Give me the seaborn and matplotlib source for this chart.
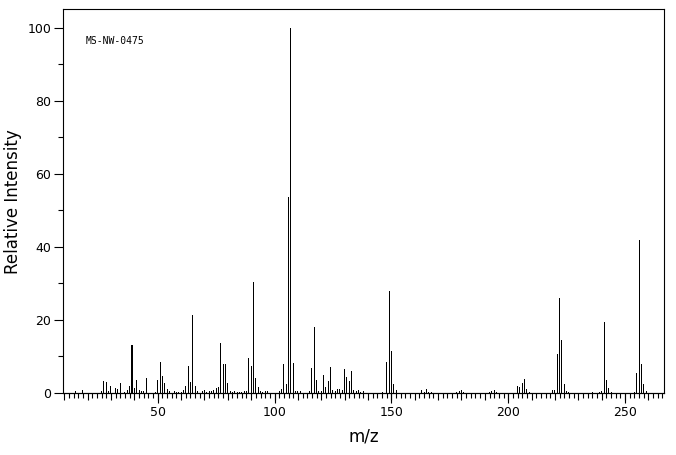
import pandas as pd
import matplotlib.pyplot as plt
import seaborn as sns
from matplotlib.ticker import MultipleLocator, NullFormatter

# Mass spectrum MS-NW-0475 (peaks)
mz = [15, 18, 26, 27, 28, 29, 30, 32, 33, 34, 36, 37, 38, 39, 40, 41, 42, 43, 44, 45,
      49, 50, 51, 52, 53, 54, 55, 57, 58, 59, 60, 61, 62, 63, 64, 65, 66, 67, 69, 70,
      71, 72, 73, 74, 75, 76, 77, 78, 79, 80, 81, 82, 83, 84, 85, 86, 87, 88, 89, 90,
      91, 92, 93, 94, 95, 96, 97, 102, 103, 104, 105, 106, 107, 108, 109, 110, 111,
      115, 116, 117, 118, 119, 120, 121, 122, 123, 124, 125, 126, 127, 128, 129, 130,
      131, 132, 133, 134, 135, 136, 137, 138, 146, 148, 149, 150, 151, 152,
      163, 164, 165, 166, 167, 178, 179, 180, 181, 192, 193, 194, 195,
      204, 205, 206, 207, 208, 209, 219, 220, 221, 222, 223, 224, 225, 226,
      236, 239, 240, 241, 242, 243, 244, 254, 255, 256, 257, 258, 259]
intensity = [0.5, 0.8, 0.5, 3.3, 3.0, 0.5, 1.9, 1.4, 1.1, 2.7, 0.3, 0.8, 1.9, 13.2, 1.4, 3.6, 0.8, 0.5, 0.5, 4.1,
             0.3, 3.6, 8.5, 4.7, 2.7, 1.1, 0.5, 0.5, 0.3, 0.3, 0.3, 0.8, 1.9, 7.4, 3.0, 21.4, 1.9, 0.5, 0.5, 0.8,
             0.3, 0.5, 0.5, 0.8, 1.4, 1.6, 13.8, 7.9, 7.9, 2.7, 0.5, 0.3, 0.5, 0.3, 0.3, 0.3, 0.5, 0.5, 9.6, 7.4,
             30.5, 4.1, 1.6, 0.5, 0.3, 0.5, 0.5, 0.5, 1.1, 7.9, 2.5, 53.7, 100.0, 8.2, 0.5, 0.5, 0.5,
             0.5, 6.8, 18.1, 3.6, 0.5, 0.5, 4.9, 1.6, 3.3, 7.1, 0.8, 0.5, 1.1, 1.1, 0.8, 6.6,
             4.4, 3.3, 6.0, 0.8, 0.5, 0.8, 0.3, 0.5, 0.3, 8.5, 27.9, 11.5, 2.5, 0.8,
             0.8, 0.3, 1.1, 0.3, 0.3, 0.3, 0.5, 0.8, 0.3, 0.3, 0.5, 0.8, 0.3,
             1.9, 1.6, 2.7, 3.8, 1.1, 0.3, 0.8, 0.8, 10.7, 26.0, 14.5, 2.5, 0.5, 0.3,
             0.3, 0.3, 0.5, 19.5, 3.6, 1.4, 0.3, 0.3, 5.5, 42.0, 7.9, 2.5, 0.5]
x_ticks = [50, 100, 150, 200, 250]

df = pd.DataFrame({"mz": mz, "intensity": intensity})

sns.set_style("ticks", {"axes.edgecolor": "black", "xtick.color": "black", "ytick.color": "black",
                        "text.color": "black", "axes.labelcolor": "black"})
plt.rcParams['font.family'] = ['DejaVu Sans']

fig = plt.figure(figsize=(6.76, 4.55), dpi=100)
ax = fig.add_axes([63.3 / 676, 1 - 393 / 455, (664.3 - 63.3) / 676, (393 - 9.3) / 455])

# thin crisp sticks: one bar per m/z, just over 1px wide, no antialiasing
sns.histplot(data=df, x="mz", weights="intensity", discrete=True, shrink=0.429,
             color="black", linewidth=0, alpha=1, antialiased=False, ax=ax)

ax.set_xlim(9.6, 266.8)
ax.set_ylim(0, 105)

for s in ax.spines.values():
    s.set_linewidth(0.8)

# x: ticks every 2, longer every 10, longest (labelled) every 50
ax.xaxis.set_major_locator(MultipleLocator(10))
ax.xaxis.set_minor_locator(MultipleLocator(2))
ax.xaxis.set_major_formatter(NullFormatter())
ax.tick_params(axis="x", which="major", length=5, width=0.8, direction="out")
ax.tick_params(axis="x", which="minor", length=3.4, width=0.8, direction="out")
ax.set_xlabel("")

sec = ax.secondary_xaxis("bottom")
sec.set_xticks(x_ticks)
sec.tick_params(length=7.2, width=0.8, labelsize=9, pad=2)
sec.spines["bottom"].set_linewidth(0.8)
sec.set_xlabel("m/z", fontsize=12, labelpad=6)

ax.yaxis.set_major_locator(MultipleLocator(20))
ax.yaxis.set_minor_locator(MultipleLocator(10))
ax.tick_params(axis="y", which="major", length=6.5, width=0.8, labelsize=9, pad=2)
ax.tick_params(axis="y", which="minor", length=3.4, width=0.8)
ax.set_ylabel("Relative Intensity", fontsize=12, labelpad=4)

ax.text(19.3, 96.3, "MS-NW-0475", family="DejaVu Sans Mono", fontsize=7, va="center")

fig.savefig("out.png", dpi=100)
